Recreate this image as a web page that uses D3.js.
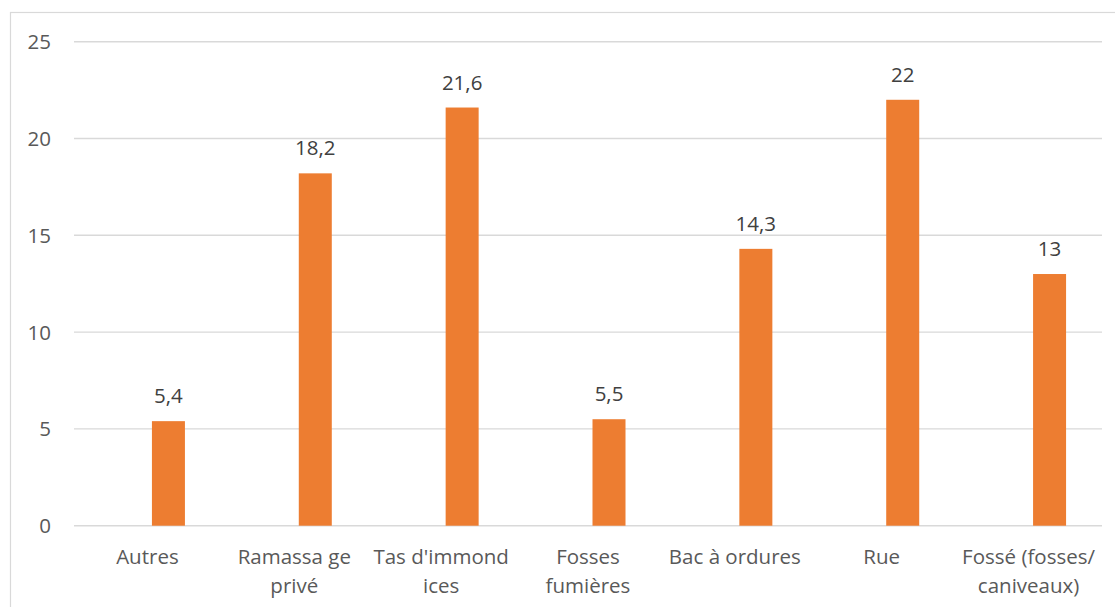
<!DOCTYPE html>
<html>
<head>
<meta charset="utf-8">
<script src="https://cdn.jsdelivr.net/npm/d3@7"></script>
<style>
  html, body { margin: 0; padding: 0; background: #fff; }
  svg { display: block; }
  text { font-family: "Open Sans", "Noto Sans", sans-serif; }
</style>
</head>
<body>
<svg id="chart" width="1115" height="607"></svg>
<script>
// data
const categories = ["Autres", "Ramassage privé", "Tas d'immondices", "Fosses fumières", "Bac à ordures", "Rue", "Fossé (fosses/ caniveaux)"];
const labelLines = [["Autres"], ["Ramassa ge", "privé"], ["Tas d'immond", "ices"], ["Fosses", "fumières"], ["Bac à ordures"], ["Rue"], ["Fossé (fosses/", "caniveaux)"]];
const values = [5.4, 18.2, 21.6, 5.5, 14.3, 22, 13];
const yTicks = [0, 5, 10, 15, 20, 25];

(function(){
  const svg = d3.select("#chart");
  const W = 1115, H = 607;
  const plotL = 74, plotR = 1102, plotT = 41.7, plotB = 525.7;
  const barW = 33, barShift = 21;
  const fs = 20.5;

  // chart frame
  svg.append("rect")
    .attr("x", 10.5).attr("y", 12.5)
    .attr("width", W).attr("height", H)
    .attr("fill", "none").attr("stroke", "#d9d9d9").attr("stroke-width", 1.2);

  const x = d3.scaleBand().domain(categories).range([plotL, plotR]).padding(0);
  const y = d3.scaleLinear().domain([0, 25]).range([plotB, plotT]);

  // gridlines
  svg.append("g").selectAll("line")
    .data(yTicks)
    .join("line")
    .attr("x1", plotL).attr("x2", plotR)
    .attr("y1", d => y(d)).attr("y2", d => y(d))
    .attr("stroke", "#d9d9d9").attr("stroke-width", 1.4);

  // y tick labels
  svg.append("g").selectAll("text")
    .data(yTicks)
    .join("text")
    .attr("x", 51).attr("y", d => y(d) + 7.5)
    .attr("text-anchor", "end")
    .attr("font-size", fs)
    .attr("fill", "#595959")
    .text(d => d);

  // bars
  const cx = c => x(c) + x.bandwidth() / 2 + barShift;
  svg.append("g").selectAll("rect")
    .data(categories)
    .join("rect")
    .attr("x", c => cx(c) - barW / 2)
    .attr("y", (c, i) => y(values[i]))
    .attr("width", barW)
    .attr("height", (c, i) => y(0) - y(values[i]))
    .attr("fill", "#ed7d31");

  // value labels
  svg.append("g").selectAll("text")
    .data(categories)
    .join("text")
    .attr("x", c => cx(c))
    .attr("y", (c, i) => y(values[i]) - 18)
    .attr("text-anchor", "middle")
    .attr("font-size", fs)
    .attr("fill", "#404040")
    .text((c, i) => String(values[i]).replace(".", ","));

  // x labels
  const xl = svg.append("g").selectAll("text")
    .data(categories)
    .join("text")
    .attr("x", c => x(c) + x.bandwidth() / 2)
    .attr("y", 564)
    .attr("text-anchor", "middle")
    .attr("font-size", fs)
    .attr("fill", "#595959");
  xl.selectAll("tspan")
    .data((c, i) => labelLines[i])
    .join("tspan")
    .attr("x", function() { return d3.select(this.parentNode).attr("x"); })
    .attr("dy", (d, j) => j === 0 ? 0 : 28.5)
    .text(d => d);
})();
</script>
</body>
</html>
